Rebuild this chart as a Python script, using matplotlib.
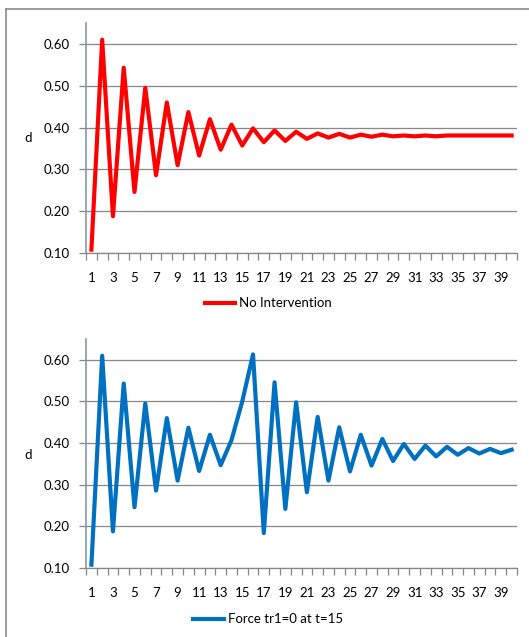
import numpy as np
import matplotlib
matplotlib.use("Agg")
import matplotlib.pyplot as plt
from matplotlib.lines import Line2D

plt.rcParams['font.family'] = ['Lato', 'DejaVu Sans']

# time steps 1..40
t = np.arange(1, 41)

# d values, no intervention
no_intervention = [0.108, 0.610, 0.188, 0.543, 0.246, 0.495, 0.286, 0.460, 0.310, 0.437,
                   0.333, 0.420, 0.347, 0.407, 0.357, 0.398, 0.365, 0.393, 0.368, 0.390,
                   0.373, 0.386, 0.376, 0.385, 0.376, 0.383, 0.378, 0.383, 0.379, 0.381,
                   0.379, 0.381, 0.379, 0.381, 0.381, 0.381, 0.381, 0.381, 0.381, 0.381]

# d values, tr1 forced to 0 at t=15
force_tr1 = [0.108, 0.610, 0.188, 0.543, 0.246, 0.495, 0.286, 0.460, 0.310, 0.437,
             0.333, 0.420, 0.347, 0.407, 0.500, 0.613, 0.184, 0.546, 0.242, 0.498,
             0.282, 0.463, 0.310, 0.438, 0.332, 0.420, 0.346, 0.410, 0.357, 0.398,
             0.362, 0.394, 0.368, 0.391, 0.372, 0.388, 0.375, 0.386, 0.376, 0.384]

yticks = [0.1, 0.2, 0.3, 0.4, 0.5, 0.6]
xlabels = [str(i) for i in t if i % 2 == 1]

fig = plt.figure(figsize=(5.29, 6.37), dpi=100)

# outer frame (left and top edge)
fig.add_artist(Line2D([6/529, 6/529], [0, 1 - 9/637], color='#8c8c8c', lw=1.2))
fig.add_artist(Line2D([6/529, 1], [1 - 9/637, 1 - 9/637], color='#8c8c8c', lw=1.2))

panels = [
    (no_intervention, '#ff0000', 'No Intervention', [0.1626, 0.6028, 0.8147, 0.3611], 0.524, 1 - 138/637),
    (force_tr1, '#0070c0', 'Force tr1=0 at t=15', [0.1626, 0.1083, 0.8147, 0.3595], 0.028, 1 - 455/637),
]

for vals, col, lab, rect, leg_y, d_y in panels:
    ax = fig.add_axes(rect)
    ax.plot(t, vals, color=col, lw=3.0, label=lab, solid_joinstyle='round')
    ax.set_xlim(0.5, 40.5)
    ax.set_ylim(0.1, 0.65)

    ax.set_yticks(yticks)
    ax.set_yticklabels(['%.2f' % v for v in yticks])
    ax.grid(axis='y', color='#878787', lw=0.9)
    ax.set_axisbelow(True)

    # tick marks between categories, labels on odd categories
    ax.set_xticks(np.arange(0.5, 41, 1.0))
    ax.set_xticklabels([])
    ax.set_xticks(t[::2], minor=True)
    ax.set_xticklabels(xlabels, minor=True)
    ax.tick_params(axis='x', which='major', length=5, color='#868686', width=0.9)
    ax.tick_params(axis='x', which='minor', length=0, pad=14, labelsize=9.5)
    ax.tick_params(axis='y', length=5, color='#868686', width=0.9, pad=7, labelsize=9.5)

    for s in ['top', 'right']:
        ax.spines[s].set_visible(False)
    ax.spines['left'].set_color('#8497b0')
    ax.spines['left'].set_linewidth(1.2)
    ax.spines['bottom'].set_color('#868686')
    ax.spines['bottom'].set_linewidth(0.9)

    fig.text(28/529, d_y, 'd', fontsize=9.5, ha='center', va='center')

    ax.legend(loc='center', bbox_to_anchor=(0.507, leg_y), bbox_transform=fig.transFigure,
              frameon=False, handlelength=2.3, handletextpad=0.3, fontsize=9.5)

fig.savefig('out.png', dpi=100)
